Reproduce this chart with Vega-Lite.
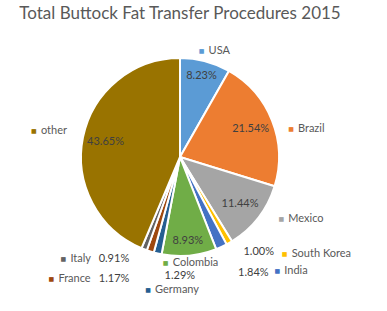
{
  "$schema": "https://vega.github.io/schema/vega-lite/v6.json",
  "autosize": {"type": "none"},
  "width": 350,
  "height": 234,
  "padding": {"left": 5, "top": 40, "right": 32, "bottom": 37},
  "background": "white",
  "title": {"text": "Total Buttock Fat Transfer Procedures 2015", "font": "Lato", "fontSize": 17, "fontWeight": "normal", "color": "#595959", "anchor": "middle", "frame": "group", "baseline": "alphabetic", "offset": 0, "dy": 61},
  "config": {"view": {"stroke": null}, "text": {"font": "Lato", "fontSize": 11}},
  "data": {"values": [
    {"idx": 1, "country": "USA", "share": 0.0823},
    {"idx": 2, "country": "Brazil", "share": 0.2154},
    {"idx": 3, "country": "Mexico", "share": 0.1144},
    {"idx": 4, "country": "South Korea", "share": 0.0100},
    {"idx": 5, "country": "India", "share": 0.0184},
    {"idx": 6, "country": "Colombia", "share": 0.0893},
    {"idx": 7, "country": "Germany", "share": 0.0129},
    {"idx": 8, "country": "France", "share": 0.0117},
    {"idx": 9, "country": "Italy", "share": 0.0091},
    {"idx": 10, "country": "other", "share": 0.4365}
  ]},
  "encoding": {
    "theta": {"field": "share", "type": "quantitative", "stack": true},
    "order": {"field": "idx", "type": "quantitative"},
    "color": {"field": "country", "type": "nominal", "legend": null,
      "scale": {"domain": ["USA", "Brazil", "Mexico", "South Korea", "India", "Colombia", "Germany", "France", "Italy", "other"],
                "range": ["#5B9BD5", "#ED7D31", "#A5A5A5", "#FFC000", "#4472C4", "#70AD47", "#255E91", "#9E480E", "#636363", "#997300"]}}
  },
  "layer": [
    {"mark": {"type": "arc", "outerRadius": 99, "stroke": "white", "strokeWidth": 2}},
    {"mark": {"type": "text", "radius": 84}, "encoding": {"color": {"value": "#404040"}, "text": {"condition": {"test": "datum.country === 'USA' || datum.country === 'Colombia'", "field": "share", "type": "quantitative", "format": ".2%"}, "value": ""}}},
    {"mark": {"type": "text", "radius": 76}, "encoding": {"color": {"value": "#404040"}, "text": {"condition": {"test": "datum.country === 'Brazil' || datum.country === 'Mexico' || datum.country === 'other'", "field": "share", "type": "quantitative", "format": ".2%"}, "value": ""}}},
    {"mark": {"type": "text", "radius": 122, "dx": 18, "dy": -11}, "encoding": {"color": {"value": "#404040"}, "text": {"condition": {"test": "datum.country === 'South Korea'", "field": "share", "type": "quantitative", "format": ".2%"}, "value": ""}}},
    {"mark": {"type": "text", "radius": 137, "dx": 16, "dy": -8}, "encoding": {"color": {"value": "#404040"}, "text": {"condition": {"test": "datum.country === 'India'", "field": "share", "type": "quantitative", "format": ".2%"}, "value": ""}}},
    {"mark": {"type": "text", "radius": 116, "dx": 26, "dy": 6}, "encoding": {"color": {"value": "#404040"}, "text": {"condition": {"test": "datum.country === 'Germany'", "field": "share", "type": "quantitative", "format": ".2%"}, "value": ""}}},
    {"mark": {"type": "text", "radius": 136, "dx": -25, "dy": -8}, "encoding": {"color": {"value": "#404040"}, "text": {"condition": {"test": "datum.country === 'France'", "field": "share", "type": "quantitative", "format": ".2%"}, "value": ""}}},
    {"mark": {"type": "text", "radius": 119, "dx": -23, "dy": -9}, "encoding": {"color": {"value": "#404040"}, "text": {"condition": {"test": "datum.country === 'Italy'", "field": "share", "type": "quantitative", "format": ".2%"}, "value": ""}}},

    {"mark": {"type": "text", "radius": 108, "dx": -6, "dy": -2, "font": "DejaVu Sans", "fontSize": 6}, "encoding": {"text": {"condition": {"test": "datum.country === 'USA'", "value": "■"}, "value": ""}}},
    {"mark": {"type": "text", "radius": 108, "dx": 1, "dy": -2, "align": "left"}, "encoding": {"color": {"value": "#595959"}, "text": {"condition": {"test": "datum.country === 'USA'", "field": "country"}, "value": ""}}},

    {"mark": {"type": "text", "radius": 114, "dx": 5, "dy": 14, "font": "DejaVu Sans", "fontSize": 6}, "encoding": {"text": {"condition": {"test": "datum.country === 'Brazil'", "value": "■"}, "value": ""}}},
    {"mark": {"type": "text", "radius": 114, "dx": 12, "dy": 14, "align": "left"}, "encoding": {"color": {"value": "#595959"}, "text": {"condition": {"test": "datum.country === 'Brazil'", "field": "country"}, "value": ""}}},

    {"mark": {"type": "text", "radius": 118, "dx": 8, "dy": -10, "font": "DejaVu Sans", "fontSize": 6}, "encoding": {"text": {"condition": {"test": "datum.country === 'Mexico'", "value": "■"}, "value": ""}}},
    {"mark": {"type": "text", "radius": 118, "dx": 15, "dy": -10, "align": "left"}, "encoding": {"color": {"value": "#595959"}, "text": {"condition": {"test": "datum.country === 'Mexico'", "field": "country"}, "value": ""}}},

    {"mark": {"type": "text", "radius": 136, "dx": 37, "dy": -21, "font": "DejaVu Sans", "fontSize": 6}, "encoding": {"text": {"condition": {"test": "datum.country === 'South Korea'", "value": "■"}, "value": ""}}},
    {"mark": {"type": "text", "radius": 136, "dx": 44, "dy": -21, "align": "left"}, "encoding": {"color": {"value": "#595959"}, "text": {"condition": {"test": "datum.country === 'South Korea'", "field": "country"}, "value": ""}}},

    {"mark": {"type": "text", "radius": 144, "dx": 37, "dy": -17, "font": "DejaVu Sans", "fontSize": 6}, "encoding": {"text": {"condition": {"test": "datum.country === 'India'", "value": "■"}, "value": ""}}},
    {"mark": {"type": "text", "radius": 144, "dx": 44, "dy": -17, "align": "left"}, "encoding": {"color": {"value": "#595959"}, "text": {"condition": {"test": "datum.country === 'India'", "field": "country"}, "value": ""}}},

    {"mark": {"type": "text", "radius": 104, "dx": -24, "dy": 2, "font": "DejaVu Sans", "fontSize": 6}, "encoding": {"text": {"condition": {"test": "datum.country === 'Colombia'", "value": "■"}, "value": ""}}},
    {"mark": {"type": "text", "radius": 104, "dx": -17, "dy": 2, "align": "left"}, "encoding": {"color": {"value": "#595959"}, "text": {"condition": {"test": "datum.country === 'Colombia'", "field": "country"}, "value": ""}}},

    {"mark": {"type": "text", "radius": 137, "dx": -1, "dy": 0, "font": "DejaVu Sans", "fontSize": 6}, "encoding": {"text": {"condition": {"test": "datum.country === 'Germany'", "value": "■"}, "value": ""}}},
    {"mark": {"type": "text", "radius": 137, "dx": 6, "dy": 0, "align": "left"}, "encoding": {"color": {"value": "#595959"}, "text": {"condition": {"test": "datum.country === 'Germany'", "field": "country"}, "value": ""}}},

    {"mark": {"type": "text", "radius": 155, "dx": -82, "dy": -26, "font": "DejaVu Sans", "fontSize": 6}, "encoding": {"text": {"condition": {"test": "datum.country === 'France'", "value": "■"}, "value": ""}}},
    {"mark": {"type": "text", "radius": 155, "dx": -75, "dy": -26, "align": "left"}, "encoding": {"color": {"value": "#595959"}, "text": {"condition": {"test": "datum.country === 'France'", "field": "country"}, "value": ""}}},

    {"mark": {"type": "text", "radius": 137, "dx": -67, "dy": -26, "font": "DejaVu Sans", "fontSize": 6}, "encoding": {"text": {"condition": {"test": "datum.country === 'Italy'", "value": "■"}, "value": ""}}},
    {"mark": {"type": "text", "radius": 137, "dx": -60, "dy": -26, "align": "left"}, "encoding": {"color": {"value": "#595959"}, "text": {"condition": {"test": "datum.country === 'Italy'", "field": "country"}, "value": ""}}},

    {"mark": {"type": "text", "radius": 148, "dx": -1, "dy": 3, "font": "DejaVu Sans", "fontSize": 6}, "encoding": {"text": {"condition": {"test": "datum.country === 'other'", "value": "■"}, "value": ""}}},
    {"mark": {"type": "text", "radius": 148, "dx": 6, "dy": 3, "align": "left"}, "encoding": {"color": {"value": "#595959"}, "text": {"condition": {"test": "datum.country === 'other'", "field": "country"}, "value": ""}}}
  ]
}
